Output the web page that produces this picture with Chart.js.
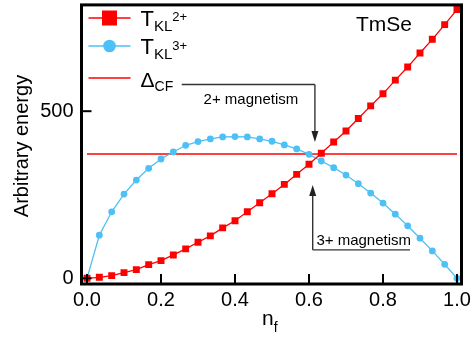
<!DOCTYPE html>
<html>
<head>
<meta charset="utf-8">
<script src="https://cdn.jsdelivr.net/npm/chart.js@4/dist/chart.umd.min.js"></script>
<style>
  html, body { margin: 0; padding: 0; background: #fff; }
</style>
</head>
<body>
<canvas id="chart" width="471" height="340"></canvas>
<script>
// f-occupation along the x axis
const nf = [0, 0.0333, 0.0667, 0.1, 0.1333, 0.1667, 0.2, 0.2333, 0.2667, 0.3,
  0.3333, 0.3667, 0.4, 0.4333, 0.4667, 0.5, 0.5333, 0.5667, 0.6, 0.6333,
  0.6667, 0.7, 0.7333, 0.7667, 0.8, 0.8333, 0.8667, 0.9, 0.9333, 0.9667, 1.0];

// Kondo-lattice scales for the two valence configurations
const tkl2 = [0, 3, 8, 17, 26, 41, 53, 70, 88, 108,
  127, 151, 172, 199, 226, 253, 281, 311, 341, 374,
  408, 441, 478, 516, 552, 593, 632, 674, 715, 759, 804];
const tkl3 = [0, 129, 199, 252, 294, 329, 357, 378, 398, 409,
  417, 423, 424, 423, 417, 410, 399, 387, 371, 351,
  331, 309, 283, 255, 225, 192, 157, 120, 82, 42, 0];

// crystal-field splitting
const deltaCF = 372;

const xTicks = [0, 0.2, 0.4, 0.6, 0.8, 1.0];
const yTicks = [0, 500];

const RED = '#ff0000';
const BLUE = '#4dc0f5';
const FONT = '"Liberation Sans", Arial, Helvetica, sans-serif';

function f(size) { return size + 'px ' + FONT; }

// text with pieces at different sizes / baseline shifts
function richText(ctx, x, y, parts) {
  ctx.textAlign = 'left';
  ctx.textBaseline = 'alphabetic';
  parts.forEach(p => {
    ctx.font = f(p.size);
    ctx.fillText(p.t, x, y + (p.dy || 0));
    x += ctx.measureText(p.t).width;
  });
}

function arrowV(ctx, x, yFrom, yTip) {
  const dir = yTip > yFrom ? 1 : -1;
  ctx.beginPath();
  ctx.moveTo(x, yFrom);
  ctx.lineTo(x, yTip - dir * 9);
  ctx.stroke();
  ctx.beginPath();
  ctx.moveTo(x, yTip);
  ctx.lineTo(x - 3.5, yTip - dir * 11);
  ctx.lineTo(x + 3.5, yTip - dir * 11);
  ctx.closePath();
  ctx.fill();
}

const decorations = {
  id: 'decorations',
  afterDraw(chart) {
    const ctx = chart.ctx;
    const xs = chart.scales.x, ys = chart.scales.y;
    const a = chart.chartArea;
    ctx.save();

    // inward tick marks
    ctx.strokeStyle = '#000';
    ctx.lineWidth = 2;
    xTicks.forEach(v => {
      const px = xs.getPixelForValue(v);
      ctx.beginPath(); ctx.moveTo(px, a.bottom); ctx.lineTo(px, a.bottom - 10); ctx.stroke();
    });
    yTicks.forEach(v => {
      const py = ys.getPixelForValue(v);
      ctx.beginPath(); ctx.moveTo(a.left, py); ctx.lineTo(a.left + 10, py); ctx.stroke();
    });

    // frame
    ctx.lineWidth = 3;
    ctx.strokeRect(a.left, a.top, a.right - a.left, a.bottom - a.top);

    // axis titles
    ctx.fillStyle = '#000';
    ctx.save();
    ctx.translate(28, 146);
    ctx.rotate(-Math.PI / 2);
    ctx.font = f(20);
    ctx.textAlign = 'center';
    ctx.textBaseline = 'alphabetic';
    ctx.fillText('Arbitrary energy', 0, 0);
    ctx.restore();
    richText(ctx, 262, 325, [{ t: 'n', size: 21 }, { t: 'f', size: 14, dy: 7 }]);

    // compound label
    ctx.font = f(21);
    ctx.textAlign = 'left';
    ctx.fillText('TmSe', 356, 31);

    // legend
    const lx0 = a.left + 7, lx1 = a.left + 49, mx = a.left + 28;
    ctx.lineWidth = 1.3;
    ctx.strokeStyle = RED;
    ctx.fillStyle = RED;
    ctx.beginPath(); ctx.moveTo(lx0, 18); ctx.lineTo(lx1, 18); ctx.stroke();
    ctx.fillRect(mx - 7.5, 18 - 7.5, 15, 15);
    ctx.beginPath(); ctx.moveTo(lx0, 78); ctx.lineTo(lx1, 78); ctx.stroke();
    ctx.strokeStyle = BLUE;
    ctx.fillStyle = BLUE;
    ctx.beginPath(); ctx.moveTo(lx0, 46); ctx.lineTo(lx1, 46); ctx.stroke();
    ctx.beginPath(); ctx.arc(mx, 46, 6.3, 0, Math.PI * 2); ctx.fill();

    ctx.fillStyle = '#000';
    const tx = a.left + 59;
    richText(ctx, tx, 26, [{ t: 'T', size: 22 }, { t: 'KL', size: 15, dy: 5 }, { t: '2+', size: 13, dy: -5 }]);
    richText(ctx, tx, 54, [{ t: 'T', size: 22 }, { t: 'KL', size: 15, dy: 5 }, { t: '3+', size: 13, dy: -4 }]);
    richText(ctx, tx, 87, [{ t: 'Δ', size: 21 }, { t: 'CF', size: 14, dy: 4 }]);

    // magnetism annotations
    ctx.strokeStyle = '#333';
    ctx.fillStyle = '#222';
    ctx.lineWidth = 1.4;
    const x2 = xs.getPixelForValue(0.616), y2 = ys.getPixelForValue(580);
    ctx.beginPath(); ctx.moveTo(xs.getPixelForValue(0.256), y2); ctx.lineTo(x2, y2); ctx.stroke();
    arrowV(ctx, x2, y2, ys.getPixelForValue(408));

    const x3 = xs.getPixelForValue(0.61), y3 = ys.getPixelForValue(85);
    ctx.beginPath(); ctx.moveTo(x3, y3); ctx.lineTo(xs.getPixelForValue(0.873), y3); ctx.stroke();
    arrowV(ctx, x3, y3, ys.getPixelForValue(279));

    ctx.fillStyle = '#000';
    ctx.font = f(15);
    ctx.textAlign = 'center';
    ctx.fillText('2+ magnetism', xs.getPixelForValue(0.443), ys.getPixelForValue(523));
    ctx.textAlign = 'left';
    ctx.fillText('3+ magnetism', xs.getPixelForValue(0.62), ys.getPixelForValue(100));

    ctx.restore();
  }
};

const ctx = document.getElementById('chart').getContext('2d');

new Chart(ctx, {
  type: 'line',
  data: {
    datasets: [
      {
        label: 'TKL2+',
        data: nf.map((x, i) => ({ x: x, y: tkl2[i] })),
        borderColor: RED,
        backgroundColor: RED,
        borderWidth: 1.3,
        pointStyle: 'rect',
        pointRadius: 4.9,
        pointBorderWidth: 0
      },
      {
        label: 'TKL3+',
        data: nf.map((x, i) => ({ x: x, y: tkl3[i] })),
        borderColor: BLUE,
        backgroundColor: BLUE,
        borderWidth: 1.3,
        pointStyle: 'circle',
        pointRadius: 3.4,
        pointBorderWidth: 0
      },
      {
        label: 'ΔCF',
        data: [{ x: 0, y: deltaCF }, { x: 1, y: deltaCF }],
        borderColor: RED,
        borderWidth: 1.5,
        pointRadius: 0
      }
    ]
  },
  options: {
    responsive: false,
    animation: false,
    devicePixelRatio: 1,
    layout: { padding: { top: 4.5, right: 9.5, left: 0, bottom: 0 } },
    plugins: {
      legend: { display: false },
      tooltip: { enabled: false }
    },
    scales: {
      x: {
        type: 'linear',
        min: -0.0149,
        max: 1.0122,
        afterFit: s => { s.height = 56; s.paddingLeft = 0; s.paddingRight = 0; },
        afterBuildTicks: s => { s.ticks = xTicks.map(v => ({ value: v })); },
        grid: { display: false, drawTicks: false },
        border: { display: false },
        ticks: {
          callback: v => v.toFixed(1),
          font: { family: FONT, size: 20 },
          color: '#000',
          padding: 4,
          maxRotation: 0,
          autoSkip: false
        }
      },
      y: {
        type: 'linear',
        min: -17,
        max: 818,
        afterFit: s => { s.width = 81.5; s.paddingTop = 0; s.paddingBottom = 0; },
        afterBuildTicks: s => { s.ticks = yTicks.map(v => ({ value: v })); },
        grid: { display: false, drawTicks: false },
        border: { display: false },
        ticks: {
          font: { family: FONT, size: 20 },
          color: '#000',
          padding: 8
        }
      }
    }
  },
  plugins: [decorations]
});
</script>
</body>
</html>
